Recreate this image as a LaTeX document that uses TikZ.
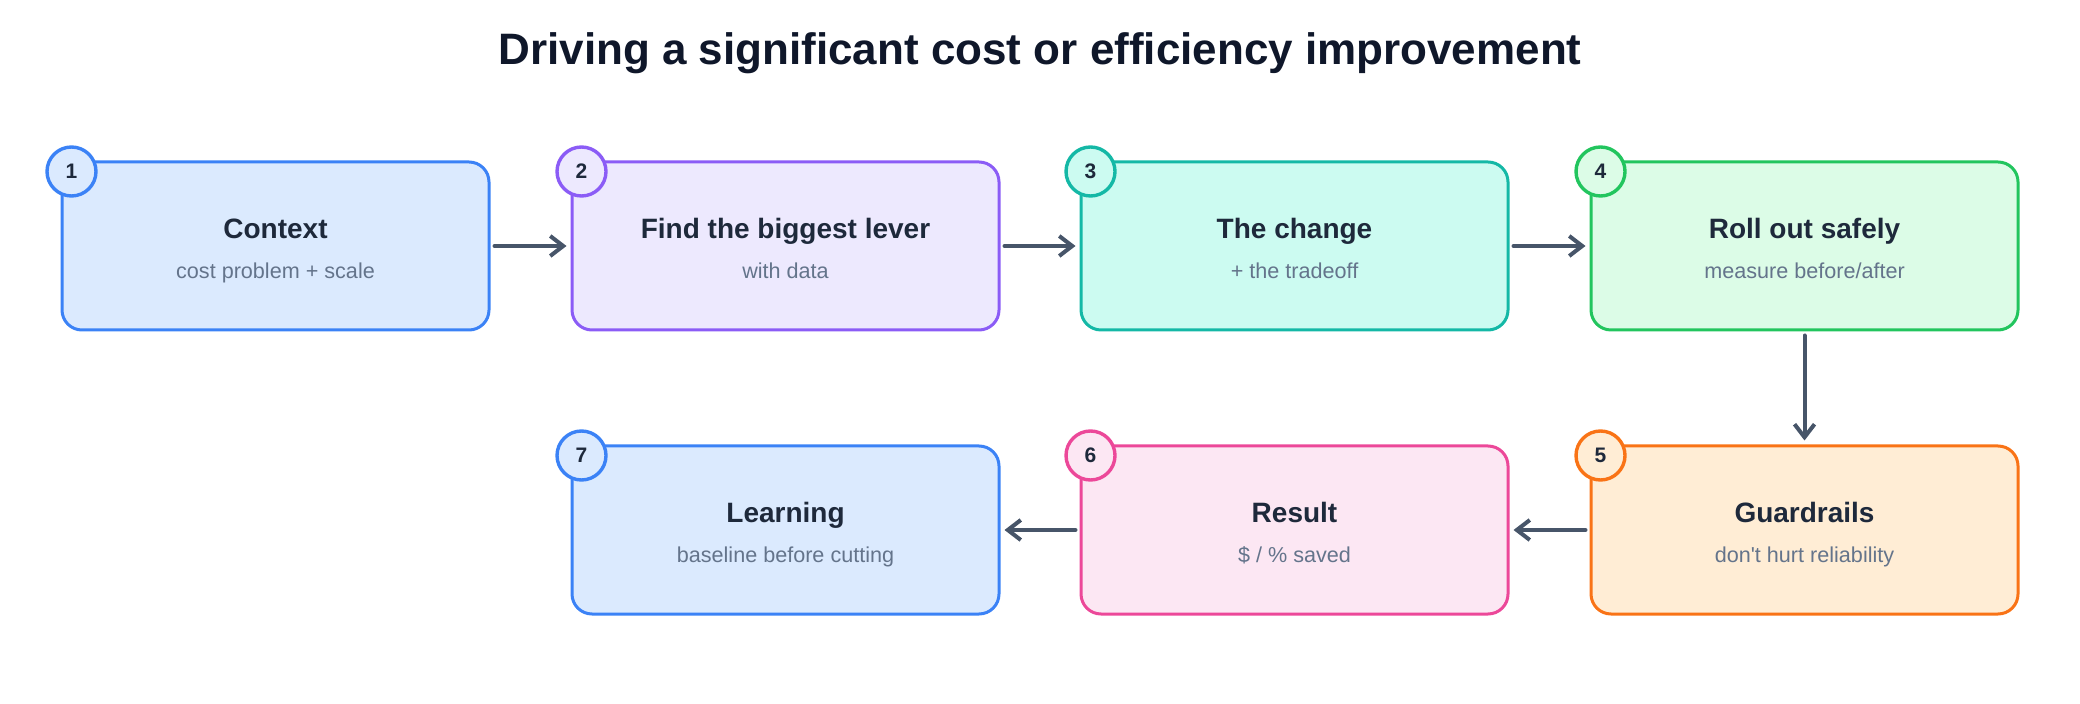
\documentclass[tikz,border=0pt]{standalone}
\usepackage{fontspec}
\setmainfont{Liberation Sans}[Ligatures=TeXOff]
\usetikzlibrary{arrows.meta,calc}
\definecolor{bluebd}{HTML}{3B82F6}\definecolor{bluefl}{HTML}{DBEAFE}
\definecolor{purpbd}{HTML}{8B5CF6}\definecolor{purpfl}{HTML}{EDE9FE}
\definecolor{tealbd}{HTML}{14B8A6}\definecolor{tealfl}{HTML}{CCFBF1}
\definecolor{grnbd}{HTML}{22C55E}\definecolor{grnfl}{HTML}{DCFCE7}
\definecolor{orgbd}{HTML}{F97316}\definecolor{orgfl}{HTML}{FFEDD5}
\definecolor{pinkbd}{HTML}{EC4899}\definecolor{pinkfl}{HTML}{FCE7F3}
\definecolor{titlec}{HTML}{0F172A}
\definecolor{headc}{HTML}{1E293B}
\definecolor{subc}{HTML}{64748B}
\definecolor{arrc}{HTML}{475569}
\tikzset{
  stepbox/.style={draw=#1bd, fill=#1fl, line width=1.5pt, rounded corners=10pt,
    minimum width=213.5pt, minimum height=84pt, inner sep=0pt},
  numcirc/.style={circle, draw=#1bd, fill=#1fl, line width=1.7pt, minimum size=24.5pt,
    inner sep=0pt, text=headc, font=\bfseries\fontsize{10.5pt}{12pt}\selectfont},
  headtxt/.style={anchor=base, text=headc, font=\bfseries\fontsize{14pt}{16pt}\selectfont, inner sep=0pt},
  subtxt/.style={anchor=base, text=subc, font=\fontsize{10.8pt}{13pt}\selectfont, inner sep=0pt},
  arr/.style={draw=arrc, line width=2pt, line cap=round,
    -{Straight Barb[length=6.5pt,width=10pt,line width=2pt]}, shorten <=2pt, shorten >=2pt},
}
\begin{document}
\begin{tikzpicture}[x=0.5pt,y=-0.5pt]
\useasboundingbox (0,0) rectangle (2080,704);
\node[anchor=base, text=titlec, font=\bfseries\fontsize{22pt}{26pt}\selectfont, inner sep=0pt] (title) at (1040,65) {Driving a significant cost or efficiency improvement};

\newcommand{\stepnode}[6]{%
  \node[stepbox=#2] (b#1) at (#3,#4) {};
  \node[headtxt] (t#1) at ($(b#1.center)+(0,-7.5)$) {#5};
  \node[subtxt] (s#1) at ($(b#1.center)+(0,32.5)$) {#6};
  \node[numcirc=#2] (n#1) at ($(b#1.north west)+(11,11)$) {#1};
}
\stepnode{1}{blue}{275.5}{246}{Context}{cost problem + scale}
\stepnode{2}{purp}{785.5}{246}{Find the biggest lever}{with data}
\stepnode{3}{teal}{1294.5}{246}{The change}{+ the tradeoff}
\stepnode{4}{grn}{1804.5}{246}{Roll out safely}{measure before/after}
\stepnode{5}{org}{1804.5}{530}{Guardrails}{don't hurt reliability}
\stepnode{6}{pink}{1294.5}{530}{Result}{\$ / \% saved}
\stepnode{7}{blue}{785.5}{530}{Learning}{baseline before cutting}

\draw[arr] (b1) -- (b2);
\draw[arr] (b2) -- (b3);
\draw[arr] (b3) -- (b4);
\draw[arr] (b4) -- (b5);
\draw[arr] (b5) -- (b6);
\draw[arr] (b6) -- (b7);
\end{tikzpicture}
\end{document}
